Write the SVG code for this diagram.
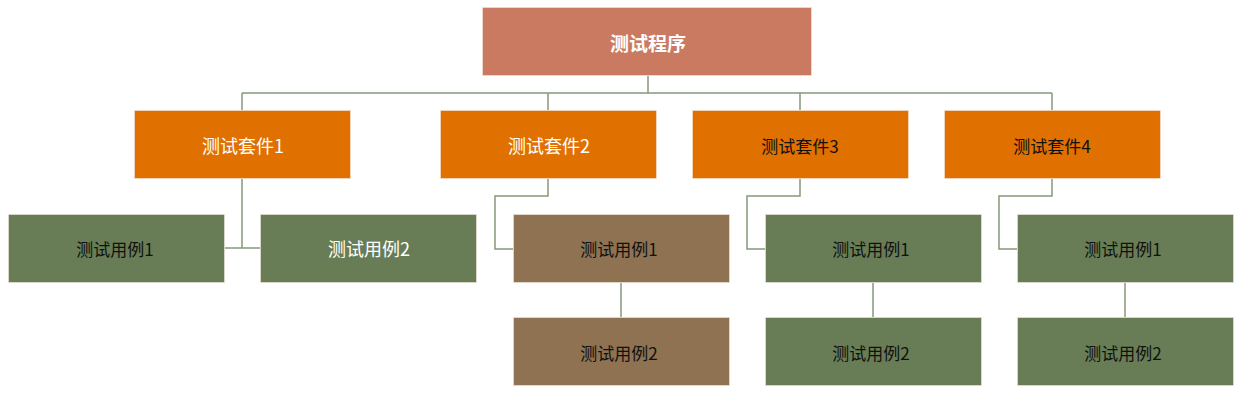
<svg xmlns="http://www.w3.org/2000/svg" width="1249" height="402" viewBox="0 0 1249 402">
<style>
.n{stroke:#f2e6dc;stroke-width:1;stroke-opacity:0.6}
.root{fill:#CB7A62}
.suite{fill:#E07000}
.green{fill:#687D55}
.brown{fill:#8E7252}
text{font-family:"Noto Sans CJK SC","Noto Sans",sans-serif;text-anchor:middle;dominant-baseline:central}
.w{fill:#ffffff;font-size:18px}
.b{fill:#111111;font-size:17px}
.conn{fill:none;stroke:#879978;stroke-width:1.5}
</style>
<rect width="1249" height="402" fill="#ffffff"/>
<g id="connectors" class="conn">
<path d="M648 76V93M242 93H1052M242 93V110M548 93V110M800 93V110M1052 93V110"/>
<path d="M242 179V248M225 248H260"/>
<path d="M548 179V196H495V249H513M621 283V317"/>
<path d="M800 179V196H747V249H765M873 283V317"/>
<path d="M1052 179V196H999V249H1017M1125 283V317"/>
</g>
<g id="root"><rect class="n root" x="482.5" y="7.5" width="329" height="68"/><text class="w" x="648" y="42" font-weight="bold" style="font-size:19px">测试程序</text></g>
<g id="suite1"><rect class="n suite" x="134.5" y="110.5" width="216" height="68"/><text class="w" x="243" y="145">测试套件1</text></g>
<g id="suite2"><rect class="n suite" x="440.5" y="110.5" width="216" height="68"/><text class="w" x="549" y="145">测试套件2</text></g>
<g id="suite3"><rect class="n suite" x="692.5" y="110.5" width="216" height="68"/><text class="b" x="800" y="145">测试套件3</text></g>
<g id="suite4"><rect class="n suite" x="944.5" y="110.5" width="216" height="68"/><text class="b" x="1052" y="145">测试套件4</text></g>
<g id="s1case1"><rect class="n green" x="8.5" y="214.5" width="216" height="68"/><text class="b" x="115" y="248">测试用例1</text></g>
<g id="s1case2"><rect class="n green" x="260.5" y="214.5" width="216" height="68"/><text class="w" x="369" y="248">测试用例2</text></g>
<g id="s2case1"><rect class="n brown" x="513.5" y="214.5" width="216" height="68"/><text class="b" x="619" y="248">测试用例1</text></g>
<g id="s2case2"><rect class="n brown" x="513.5" y="317.5" width="216" height="68"/><text class="b" x="619" y="352">测试用例2</text></g>
<g id="s3case1"><rect class="n green" x="765.5" y="214.5" width="216" height="68"/><text class="b" x="871" y="248">测试用例1</text></g>
<g id="s3case2"><rect class="n green" x="765.5" y="317.5" width="216" height="68"/><text class="b" x="871" y="352">测试用例2</text></g>
<g id="s4case1"><rect class="n green" x="1017.5" y="214.5" width="216" height="68"/><text class="b" x="1123" y="248">测试用例1</text></g>
<g id="s4case2"><rect class="n green" x="1017.5" y="317.5" width="216" height="68"/><text class="b" x="1123" y="352">测试用例2</text></g>
</svg>
